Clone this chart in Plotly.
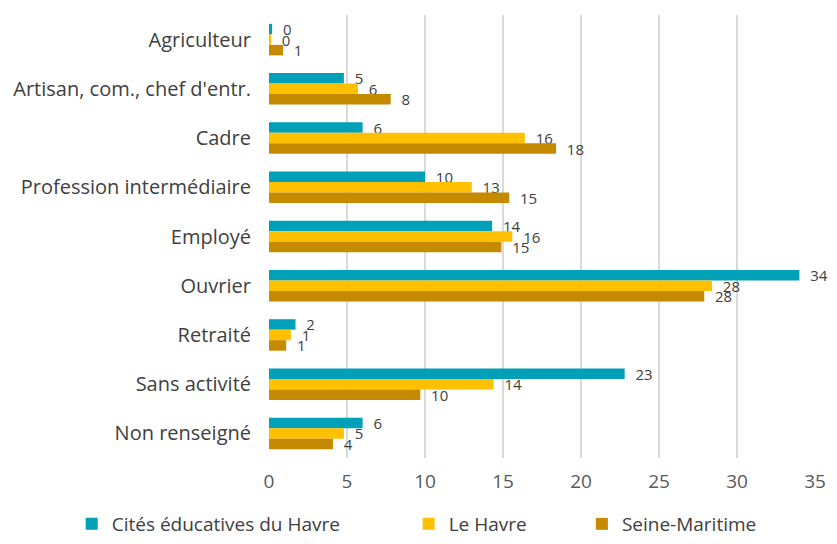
import plotly.graph_objects as go

# Répartition par catégorie socio-professionnelle (%)
categories = ['Agriculteur', "Artisan, com., chef d'entr.", 'Cadre',
              'Profession intermédiaire', 'Employé', 'Ouvrier', 'Retraité',
              'Sans activité', 'Non renseigné']

cites_havre = [0.2, 4.8, 6.0, 10.0, 14.3, 34.0, 1.7, 22.8, 6.0]
le_havre = [0.1, 5.7, 16.4, 13.0, 15.6, 28.4, 1.4, 14.4, 4.8]
seine_maritime = [0.9, 7.8, 18.4, 15.4, 14.9, 27.9, 1.1, 9.7, 4.1]

series = [
    ('Cités éducatives du Havre', cites_havre, '#00A0B9', 'legend', 0.0776),
    ('Le Havre', le_havre, '#FFC000', 'legend2', 0.488),
    ('Seine-Maritime', seine_maritime, '#C68A00', 'legend3', 0.699),
]

# the page body adds an 8px margin all round, so keep the figure inside the window
W, H = 821, 528

fig = go.Figure()
for name, vals, color, leg, _ in series:
    fig.add_trace(go.Bar(
        y=categories, x=vals, name=name, orientation='h', legend=leg,
        marker=dict(color=color, line=dict(width=0)),
        text=vals, texttemplate='\u00a0\u00a0%{x:.0f}', textposition='outside',
        constraintext='none',
        textfont=dict(family='Open Sans', size=15, color='#404040'),
        cliponaxis=False,
    ))

legend_style = dict(orientation='h', xref='container', xanchor='left',
                    yref='container', y=1 - 516 / H, yanchor='middle',
                    font=dict(family='Open Sans', size=19, color='#404040'),
                    itemwidth=30, bgcolor='rgba(0,0,0,0)')
fig.update_layout(
    width=W, height=H,
    margin=dict(l=261, r=14, t=7, b=78, autoexpand=False),
    barmode='group', bargap=0.36, bargroupgap=0,
    plot_bgcolor='white', paper_bgcolor='white',
    font=dict(family='Open Sans', size=20, color='#404040'),
    legend=dict(legend_style, x=series[0][4]),
    legend2=dict(legend_style, x=series[1][4]),
    legend3=dict(legend_style, x=series[2][4]),
    showlegend=True,
)
fig.update_xaxes(range=[0, 35], dtick=5, showgrid=True, gridcolor='#D9D9D9',
                 gridwidth=1.5, zeroline=False, showline=False, ticks='',
                 automargin=False, ticklabelstandoff=10,
                 ticklabeloverflow='allow',
                 tickfont=dict(family='Open Sans', size=19, color='#595959'))
fig.update_yaxes(autorange='reversed', showgrid=False, showline=False,
                 ticks='', ticklabelstandoff=17, automargin=False,
                 tickfont=dict(family='Open Sans', size=20, color='#404040'))

fig.write_html("out.html")
